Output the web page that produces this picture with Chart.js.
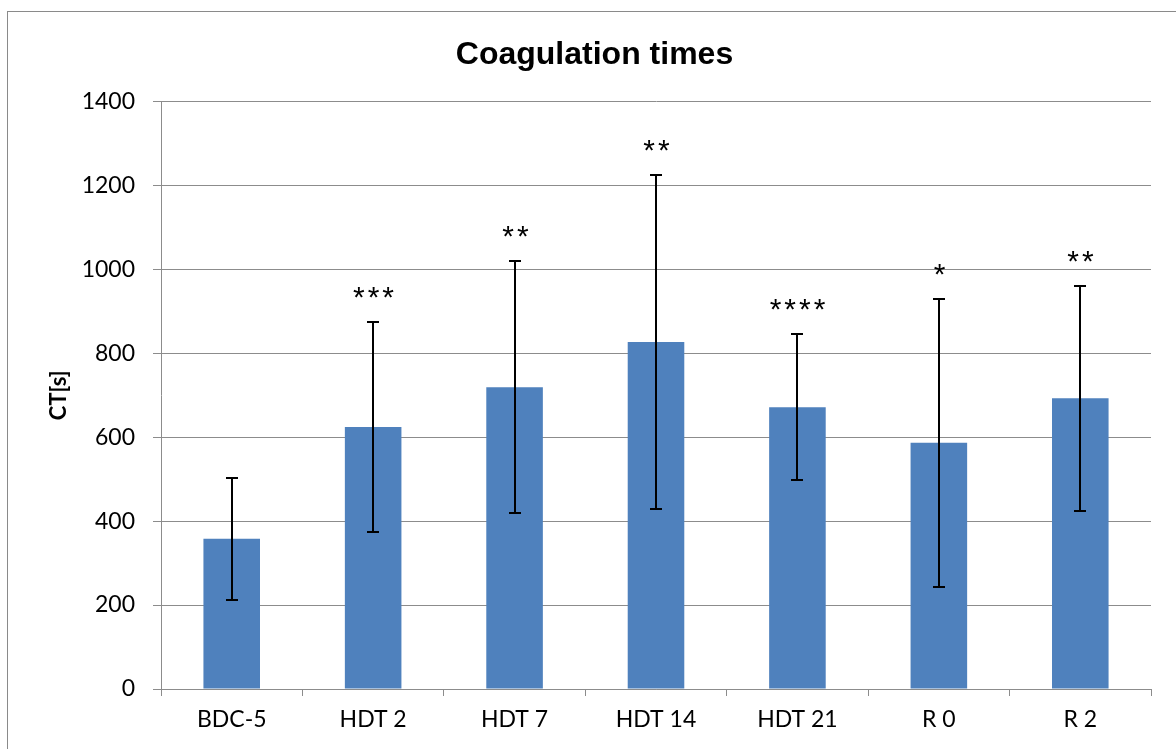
<!DOCTYPE html>
<html>
<head>
<meta charset="utf-8">
<script src="https://cdn.jsdelivr.net/npm/chart.js@4"></script>
<style>
  html, body { margin: 0; padding: 0; background: #fff; overflow: hidden; }
  #frame { position: absolute; left: 7px; top: 11px; width: 1300px; height: 900px; border: 1px solid #8a8a8a; box-sizing: border-box; }
  #wrap { position: absolute; left: 0; top: 0; width: 1176px; height: 749px; }
</style>
</head>
<body>
<div id="frame"></div>
<div id="wrap"><canvas id="ctChart" width="1176" height="749"></canvas></div>
<script>
// coagulation time per group, mean and SD in seconds
var categories = ['BDC-5', 'HDT 2', 'HDT 7', 'HDT 14', 'HDT 21', 'R 0', 'R 2'];
var meanCT = [358, 624, 719, 827, 671, 587, 693];
var sdCT = [145, 251, 300, 397, 174, 343, 268];
var significance = ['', '***', '**', '**', '****', '*', '**'];
var yMin = 0, yMax = 1400, yStep = 200;

var GRID = '#8c8c8c';

// draws SD whiskers and significance stars over each bar
var errorBars = {
  id: 'errorBars',
  afterDatasetsDraw: function (chart) {
    var ctx = chart.ctx;
    var yScale = chart.scales.y;
    var meta = chart.getDatasetMeta(0);
    ctx.save();
    ctx.strokeStyle = '#000';
    ctx.lineWidth = 2;
    meta.data.forEach(function (bar, i) {
      var x = Math.round(bar.x);
      var top = Math.round(yScale.getPixelForValue(meanCT[i] + sdCT[i]));
      var bottom = Math.round(yScale.getPixelForValue(meanCT[i] - sdCT[i]));
      ctx.beginPath();
      ctx.moveTo(x, top);
      ctx.lineTo(x, bottom);
      ctx.moveTo(x - 6, top);
      ctx.lineTo(x + 6, top);
      ctx.moveTo(x - 6, bottom);
      ctx.lineTo(x + 6, bottom);
      ctx.stroke();

      if (significance[i]) {
        ctx.fillStyle = '#000';
        ctx.font = '30px "Liberation Sans"';
        ctx.letterSpacing = '3px';
        ctx.textAlign = 'center';
        ctx.textBaseline = 'alphabetic';
        ctx.fillText(significance[i], x + 2, top - 32 + 17);
      }
    });
    ctx.restore();
  }
};

function draw() {
  Chart.defaults.font.family = 'Lato';
  Chart.defaults.color = '#000';

  new Chart(document.getElementById('ctChart'), {
    type: 'bar',
    data: {
      labels: categories,
      datasets: [{
        label: 'CT',
        data: meanCT,
        backgroundColor: '#4f81bd',
        barPercentage: 0.4,
        categoryPercentage: 1.0
      }]
    },
    options: {
      responsive: false,
      animation: false,
      layout: { padding: { left: 38, top: 0, right: 25, bottom: 0 } },
      plugins: {
        legend: { display: false },
        tooltip: { enabled: false },
        title: {
          display: true,
          text: 'Coagulation times',
          color: '#000',
          font: { family: '"Liberation Sans"', size: 32, weight: 'bold' },
          padding: { top: 36, bottom: 27 }
        }
      },
      scales: {
        x: {
          grid: { drawOnChartArea: false, offset: true, tickLength: 7, color: GRID },
          border: { color: GRID, width: 1 },
          ticks: { font: { size: 23 }, color: '#000', padding: 10 },
          afterFit: function (s) { s.height = 60; }
        },
        y: {
          min: yMin,
          max: yMax,
          ticks: {
            stepSize: yStep,
            font: { size: 23 },
            color: '#000',
            padding: 18,
            callback: function (v) { return String(v); }
          },
          grid: { color: GRID, tickLength: 8 },
          border: { color: GRID, width: 1 },
          title: { display: true, text: 'CT[s]', color: '#000', font: { size: 22, weight: 'bold' }, padding: { top: 8, bottom: 0 } },
          afterFit: function (s) { s.width = 123; }
        }
      }
    },
    plugins: [errorBars]
  });
}

if (document.fonts && document.fonts.load) {
  Promise.all([
    document.fonts.load('23px Lato'),
    document.fonts.load('bold 32px "Liberation Sans"')
  ]).then(draw, draw);
} else {
  draw();
}
</script>
</body>
</html>
